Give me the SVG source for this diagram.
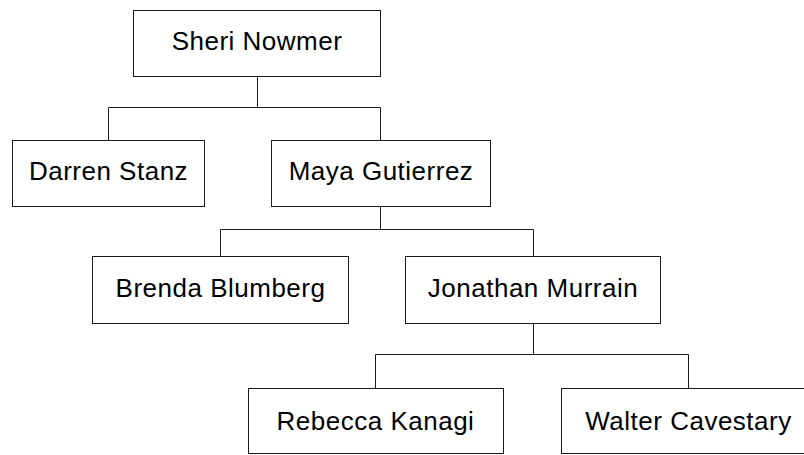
<svg xmlns="http://www.w3.org/2000/svg" width="804" height="455" viewBox="0 0 804 455">
  <style>
    .box { fill: #ffffff; stroke: #1a1a1a; stroke-width: 1; }
    .lbl { font-family: "Liberation Sans", Arial, sans-serif; font-size: 26px; letter-spacing: 0.5px; fill: #000000; text-anchor: middle; }
    .conn { fill: none; stroke: #1a1a1a; stroke-width: 1; }
  </style>
  <rect x="0" y="0" width="804" height="455" fill="#ffffff"/>
  <g id="connectors">
    <path class="conn" d="M257.5 76 V107.5 M108.5 140 V107.5 H380.5 V140"/>
    <path class="conn" d="M380.5 206 V229.5 M220.5 256 V229.5 H533.5 V256"/>
    <path class="conn" d="M533.5 324 V354.5 M375.5 388 V354.5 H688.5 V388"/>
  </g>
  <g id="sheri">
    <rect class="box" x="133.5" y="10.5" width="247" height="66"/>
    <text class="lbl" x="257" y="50">Sheri Nowmer</text>
  </g>
  <g id="darren">
    <rect class="box" x="12.5" y="140.5" width="192" height="66"/>
    <text class="lbl" x="108.5" y="180">Darren Stanz</text>
  </g>
  <g id="maya">
    <rect class="box" x="271.5" y="140.5" width="219" height="66"/>
    <text class="lbl" x="381" y="180">Maya Gutierrez</text>
  </g>
  <g id="brenda">
    <rect class="box" x="92.5" y="256.5" width="256" height="67"/>
    <text class="lbl" x="220.5" y="297">Brenda Blumberg</text>
  </g>
  <g id="jonathan">
    <rect class="box" x="405.5" y="256.5" width="255" height="67"/>
    <text class="lbl" x="533" y="297">Jonathan Murrain</text>
  </g>
  <g id="rebecca">
    <rect class="box" x="248.5" y="388.5" width="255" height="65"/>
    <text class="lbl" x="375.5" y="430">Rebecca Kanagi</text>
  </g>
  <g id="walter">
    <rect class="box" x="561.5" y="388.5" width="254" height="65"/>
    <text class="lbl" x="688.5" y="430">Walter Cavestary</text>
  </g>
</svg>
